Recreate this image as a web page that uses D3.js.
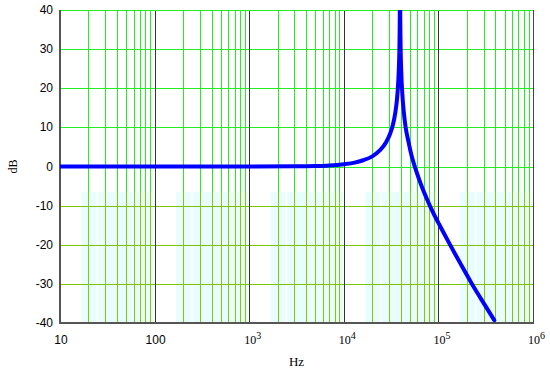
<!DOCTYPE html>
<html>
<head>
<meta charset="utf-8">
<script src="https://cdn.jsdelivr.net/npm/d3@7"></script>
<style>
  body { margin: 0; background: #fff; }
  svg { display: block; }
</style>
</head>
<body>
<svg id="chart"></svg>
<script>
// values
const freqHz = [10, 100, 1000, 3000, 5000, 7000, 10000, 13000, 16000, 20000, 24000, 28000,
  31000, 33000, 35000, 36500, 37500, 38200, 38800, 39100, 39300, 39500, 39800, 40500, 41500,
  43000, 45000, 48000, 52000, 58000, 65000, 75000, 90000, 100000, 130000, 170000, 220000,
  280000, 390000];
const gainDb = [0, 0, 0, 0.05, 0.14, 0.28, 0.6, 1.0, 1.6, 2.6, 4.1, 6.2,
  8.5, 10.6, 13.7, 17.2, 21, 25.2, 31.9, 39.9, 60, 39.8, 31.8, 24.2, 18.8,
  14.1, 10.1, 6.6, 2.8, -1.0, -4.4, -8.1, -12.3, -14.4, -19.6, -24.7, -29.5,
  -33.7, -39.3];
const yTicks = [-40, -30, -20, -10, 0, 10, 20, 30, 40];
const xDecades = [10, 100, 1e3, 1e4, 1e5, 1e6];
const xTickBase = ["10", "100", "10", "10", "10", "10"];
const xTickExp = ["", "", "3", "4", "5", "6"];

const width = 550, height = 373;
const svg = d3.select("#chart").attr("width", width).attr("height", height);

const x = d3.scaleLog().domain([10, 1e6]).range([60, 533]);
const y = d3.scaleLinear().domain([-40, 40]).range([323, 10]);
const lowY = Math.round(y(-6.6)); // where the grid turns olive/cyan

const minors = [];
xDecades.slice(0, -1).forEach(d => { for (let k = 2; k <= 9; k++) minors.push(d * k); });

// cyan halo under the lower grid
const halo = svg.append("g");
minors.forEach(f => {
  const dec = Math.pow(10, Math.floor(Math.log10(f) + 1e-9));
  const x0 = Math.max(x(f) - 7, x(dec)), x1 = Math.min(x(f) + 8, x(dec * 10) - 1);
  halo.append("rect").attr("x", x0).attr("y", lowY).attr("width", x1 - x0)
    .attr("height", y(-40) - lowY).attr("fill", "#e8fdfe");
});

// vertical minor grid
const grid = svg.append("g").attr("shape-rendering", "crispEdges");
grid.selectAll(".vu").data(minors).join("line")
  .attr("x1", d => Math.round(x(d)) + 0.5).attr("x2", d => Math.round(x(d)) + 0.5)
  .attr("y1", y(40)).attr("y2", lowY)
  .attr("stroke", "#22ee22");
grid.selectAll(".vl").data(minors).join("line")
  .attr("x1", d => Math.round(x(d)) + 0.5).attr("x2", d => Math.round(x(d)) + 0.5)
  .attr("y1", lowY).attr("y2", y(-40))
  .attr("stroke", "#88c800");

// horizontal grid
grid.selectAll(".h").data(yTicks.slice(1, -1)).join("line")
  .attr("x1", x(10)).attr("x2", x(1e6))
  .attr("y1", d => Math.round(y(d)) + 0.5).attr("y2", d => Math.round(y(d)) + 0.5)
  .attr("stroke", d => y(d) > lowY ? "#7cc400" : "#22ee22");

// decade lines
grid.selectAll(".d").data(xDecades.slice(1, -1)).join("line")
  .attr("x1", d => Math.round(x(d)) + 0.5).attr("x2", d => Math.round(x(d)) + 0.5)
  .attr("y1", y(40)).attr("y2", y(-40))
  .attr("stroke", "#333");

// frame
grid.append("line").attr("x1", x(10)).attr("x2", x(1e6)).attr("y1", y(40) + 0.5).attr("y2", y(40) + 0.5)
  .attr("stroke", "#22ee22");
grid.append("line").attr("x1", x(1e6) + 0.5).attr("x2", x(1e6) + 0.5).attr("y1", y(40)).attr("y2", y(-40))
  .attr("stroke", "#444");
grid.append("line").attr("x1", x(10)).attr("x2", x(10)).attr("y1", y(40)).attr("y2", y(-40) + 1)
  .attr("stroke", "#555").attr("stroke-width", 2);
grid.append("line").attr("x1", x(10)).attr("x2", x(1e6) + 1).attr("y1", y(-40)).attr("y2", y(-40))
  .attr("stroke", "#555").attr("stroke-width", 2);

// curve
svg.append("clipPath").attr("id", "clip").append("rect")
  .attr("x", x(10)).attr("y", y(40)).attr("width", x(1e6) - x(10)).attr("height", y(-40) - y(40));

const line = d3.line().x((d, i) => x(freqHz[i])).y(d => y(d)).curve(d3.curveMonotoneX);
svg.append("path")
  .datum(gainDb)
  .attr("clip-path", "url(#clip)")
  .attr("d", line)
  .attr("fill", "none")
  .attr("stroke", "#0000ff")
  .attr("stroke-width", 4)
  .attr("stroke-linecap", "round")
  .attr("stroke-linejoin", "round");

// y tick labels
svg.append("g")
  .attr("font-family", "Liberation Sans, Arial, sans-serif")
  .attr("font-size", 12)
  .attr("text-anchor", "end")
  .selectAll("text").data(yTicks).join("text")
  .attr("x", 53).attr("y", d => y(d) + 4)
  .text(d => d);

// x tick labels
const xl = svg.append("g").attr("font-size", 12).attr("fill", "#000");
xDecades.forEach((d, i) => {
  const t = xl.append("text")
    .attr("y", 344)
    .attr("font-family", xTickExp[i] ? "Liberation Serif, Times New Roman, serif" : "Liberation Sans, Arial, sans-serif");
  if (xTickExp[i]) {
    t.attr("x", x(d) - 5).attr("text-anchor", "start");
    t.append("tspan").text(xTickBase[i]);
    t.append("tspan").attr("dy", -5).attr("font-size", 10).text(xTickExp[i]);
  } else {
    t.attr("x", x(d) + 1).attr("text-anchor", "middle").text(xTickBase[i]);
  }
});

// axis titles
svg.append("text")
  .attr("x", (x(10) + x(1e6)) / 2).attr("y", 366)
  .attr("text-anchor", "middle")
  .attr("font-family", "Liberation Serif, Times New Roman, serif")
  .attr("font-size", 13)
  .text("Hz");

svg.append("text")
  .attr("transform", `translate(17,${y(0)}) rotate(-90)`)
  .attr("text-anchor", "middle")
  .attr("font-family", "Liberation Serif, Times New Roman, serif")
  .attr("font-size", 12)
  .text("dB");
</script>
</body>
</html>
